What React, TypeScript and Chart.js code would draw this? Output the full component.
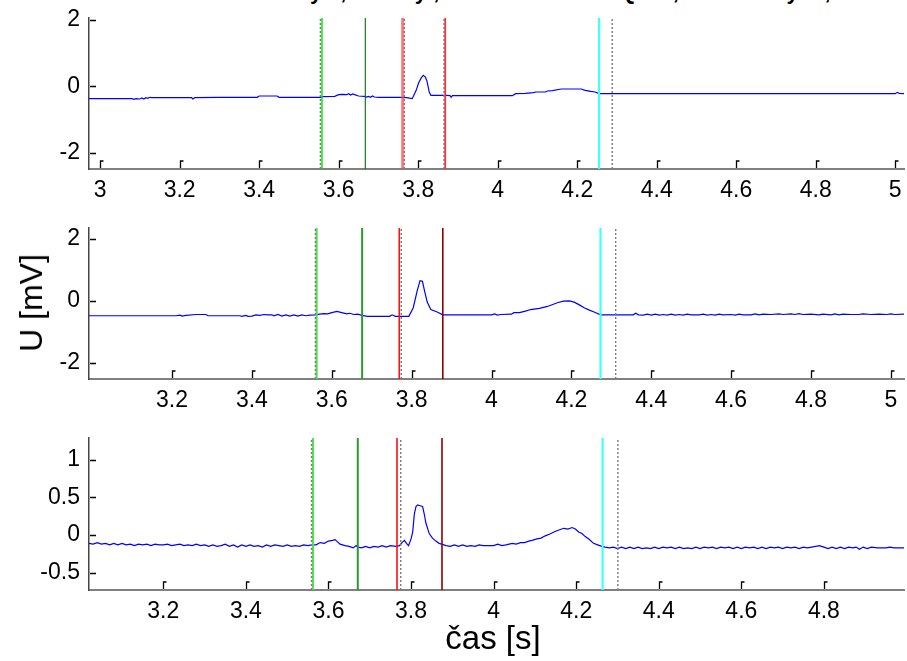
import React, { useEffect, useRef } from "react";
import { Chart, registerables } from "chart.js";

Chart.register(...registerables);

// ---------------- DATA ----------------
// Signal samples: [time s, voltage mV]
const topSignal: [number, number][] = [
  [2.972, -0.37], [3.0, -0.37], [3.05, -0.37], [3.08, -0.37], [3.085, -0.39], [3.09, -0.37],
  [3.1, -0.38], [3.105, -0.35], [3.11, -0.38], [3.115, -0.34], [3.12, -0.36], [3.125, -0.33],
  [3.13, -0.34], [3.16, -0.34], [3.2, -0.34], [3.23, -0.34], [3.233, -0.38], [3.238, -0.34],
  [3.3, -0.33], [3.35, -0.33], [3.395, -0.33], [3.4, -0.29], [3.445, -0.29], [3.45, -0.33],
  [3.5, -0.33], [3.555, -0.33], [3.56, -0.31], [3.59, -0.3], [3.6, -0.25], [3.61, -0.24],
  [3.62, -0.25], [3.625, -0.22], [3.63, -0.26], [3.635, -0.23], [3.64, -0.25], [3.65, -0.29],
  [3.665, -0.3], [3.67, -0.32], [3.675, -0.3], [3.68, -0.33], [3.685, -0.29], [3.69, -0.32],
  [3.7, -0.33], [3.76, -0.33], [3.77, -0.34], [3.785, -0.37], [3.795, -0.12], [3.801, 0.1],
  [3.808, 0.26], [3.813, 0.33], [3.818, 0.28], [3.822, 0.16], [3.828, -0.18], [3.832, -0.27],
  [3.87, -0.27], [3.88, -0.28], [3.883, -0.33], [3.886, -0.28], [3.95, -0.28], [4.037, -0.28],
  [4.045, -0.22], [4.07, -0.21], [4.09, -0.19], [4.096, -0.17], [4.12, -0.17], [4.125, -0.14],
  [4.138, -0.13], [4.16, -0.08], [4.21, -0.08], [4.22, -0.12], [4.234, -0.15], [4.245, -0.17],
  [4.255, -0.22], [4.3, -0.22], [4.5, -0.22], [4.8, -0.22], [5.0, -0.22], [5.005, -0.18],
  [5.01, -0.21], [5.022, -0.22],
];

const middleSignal: [number, number][] = [
  [2.992, -0.48], [3.1, -0.48], [3.21, -0.48], [3.22, -0.46], [3.225, -0.49], [3.235, -0.47],
  [3.26, -0.44], [3.285, -0.44], [3.29, -0.48], [3.37, -0.48], [3.375, -0.5], [3.385, -0.47],
  [3.39, -0.5], [3.4, -0.49], [3.41, -0.45], [3.42, -0.47], [3.43, -0.44], [3.44, -0.45],
  [3.45, -0.45], [3.455, -0.48], [3.465, -0.44], [3.475, -0.49], [3.485, -0.45], [3.495, -0.49],
  [3.505, -0.45], [3.515, -0.49], [3.525, -0.45], [3.535, -0.48], [3.545, -0.46], [3.559, -0.45],
  [3.57, -0.43], [3.58, -0.41], [3.59, -0.42], [3.6, -0.38], [3.613, -0.34], [3.625, -0.38],
  [3.638, -0.42], [3.645, -0.4], [3.655, -0.44], [3.665, -0.43], [3.676, -0.47], [3.689, -0.5],
  [3.745, -0.5], [3.751, -0.45], [3.759, -0.5], [3.793, -0.5], [3.804, -0.22], [3.814, 0.33],
  [3.821, 0.65], [3.827, 0.63], [3.833, 0.28], [3.839, -0.04], [3.848, -0.28], [3.864, -0.36],
  [3.878, -0.45], [4.0, -0.45], [4.008, -0.42], [4.015, -0.46], [4.023, -0.44], [4.05, -0.43],
  [4.056, -0.38], [4.07, -0.38], [4.085, -0.33], [4.098, -0.28], [4.12, -0.24], [4.14, -0.18],
  [4.165, -0.06], [4.18, -0.01], [4.195, 0.0], [4.207, -0.04], [4.22, -0.13], [4.232, -0.22],
  [4.245, -0.3], [4.257, -0.36], [4.273, -0.45], [4.355, -0.45], [4.361, -0.4], [4.368, -0.45],
  [4.38, -0.46], [4.39, -0.43], [4.4, -0.46], [4.41, -0.43], [4.42, -0.46], [4.43, -0.44],
  [4.44, -0.46], [4.45, -0.43], [4.46, -0.46], [4.47, -0.44], [4.48, -0.46], [4.49, -0.43],
  [4.5, -0.45], [4.52, -0.45], [4.53, -0.43], [4.54, -0.46], [4.55, -0.44], [4.56, -0.46],
  [4.57, -0.43], [4.58, -0.45], [4.6, -0.44], [4.61, -0.46], [4.62, -0.43], [4.63, -0.45],
  [4.65, -0.45], [4.66, -0.42], [4.67, -0.45], [4.68, -0.43], [4.7, -0.44], [4.72, -0.42],
  [4.73, -0.44], [4.75, -0.42], [4.76, -0.44], [4.77, -0.41], [4.78, -0.44], [4.8, -0.43],
  [4.82, -0.45], [4.83, -0.43], [4.85, -0.45], [4.86, -0.42], [4.87, -0.45], [4.88, -0.43],
  [4.9, -0.44], [4.92, -0.44], [4.93, -0.42], [4.95, -0.44], [4.97, -0.43], [4.99, -0.44],
  [5.0, -0.42], [5.01, -0.44], [5.033, -0.43],
];

const bottomSignal: [number, number][] = [
  [3.02, -0.11], [3.03, -0.12], [3.04, -0.1], [3.05, -0.12], [3.06, -0.11], [3.07, -0.13],
  [3.08, -0.11], [3.09, -0.13], [3.1, -0.11], [3.11, -0.13], [3.12, -0.12], [3.13, -0.14],
  [3.14, -0.12], [3.15, -0.13], [3.16, -0.12], [3.17, -0.14], [3.18, -0.12], [3.19, -0.13],
  [3.2, -0.13], [3.21, -0.12], [3.22, -0.14], [3.23, -0.13], [3.24, -0.12], [3.25, -0.14],
  [3.26, -0.13], [3.27, -0.14], [3.28, -0.12], [3.29, -0.14], [3.3, -0.13], [3.31, -0.15],
  [3.32, -0.13], [3.33, -0.15], [3.34, -0.14], [3.35, -0.12], [3.36, -0.15], [3.37, -0.13],
  [3.38, -0.16], [3.39, -0.13], [3.4, -0.15], [3.41, -0.13], [3.42, -0.15], [3.43, -0.14],
  [3.44, -0.16], [3.45, -0.13], [3.46, -0.15], [3.47, -0.13], [3.48, -0.14], [3.49, -0.15],
  [3.5, -0.13], [3.51, -0.15], [3.52, -0.14], [3.53, -0.15], [3.54, -0.13], [3.55, -0.14],
  [3.56, -0.13], [3.57, -0.13], [3.58, -0.1], [3.59, -0.11], [3.6, -0.08], [3.61, -0.07],
  [3.616, -0.06], [3.622, -0.09], [3.628, -0.12], [3.64, -0.14], [3.65, -0.15], [3.66, -0.17],
  [3.667, -0.14], [3.671, -0.16], [3.68, -0.17], [3.69, -0.15], [3.7, -0.17], [3.71, -0.15],
  [3.72, -0.16], [3.73, -0.14], [3.74, -0.16], [3.75, -0.14], [3.764, -0.15], [3.772, -0.14],
  [3.778, -0.1], [3.784, -0.07], [3.789, -0.11], [3.794, -0.14], [3.8, -0.05], [3.804, 0.04],
  [3.808, 0.28], [3.812, 0.38], [3.816, 0.4], [3.822, 0.39], [3.828, 0.38], [3.832, 0.28],
  [3.836, 0.16], [3.844, 0.02], [3.852, -0.04], [3.86, -0.08], [3.868, -0.11], [3.874, -0.12],
  [3.885, -0.14], [3.895, -0.15], [3.905, -0.13], [3.915, -0.15], [3.925, -0.13], [3.935, -0.15],
  [3.945, -0.14], [3.955, -0.15], [3.965, -0.13], [3.975, -0.14], [3.99, -0.14], [4.0, -0.14],
  [4.01, -0.12], [4.02, -0.14], [4.03, -0.13], [4.045, -0.11], [4.055, -0.12], [4.065, -0.1],
  [4.075, -0.1], [4.085, -0.08], [4.093, -0.07], [4.105, -0.05], [4.115, -0.04], [4.125, -0.01],
  [4.135, 0.01], [4.15, 0.05], [4.16, 0.07], [4.17, 0.09], [4.18, 0.08], [4.19, 0.1],
  [4.198, 0.08], [4.206, 0.04], [4.214, 0.02], [4.222, -0.02], [4.232, -0.06], [4.242, -0.11],
  [4.252, -0.13], [4.262, -0.15], [4.27, -0.16], [4.28, -0.17], [4.29, -0.16], [4.3, -0.18],
  [4.31, -0.16], [4.32, -0.18], [4.33, -0.16], [4.34, -0.18], [4.35, -0.16], [4.36, -0.18],
  [4.37, -0.17], [4.38, -0.18], [4.39, -0.16], [4.4, -0.18], [4.41, -0.16], [4.42, -0.17],
  [4.43, -0.16], [4.44, -0.18], [4.45, -0.16], [4.46, -0.18], [4.47, -0.17], [4.48, -0.18],
  [4.49, -0.16], [4.5, -0.18], [4.51, -0.16], [4.52, -0.17], [4.53, -0.16], [4.54, -0.18],
  [4.55, -0.16], [4.56, -0.17], [4.57, -0.16], [4.58, -0.18], [4.59, -0.16], [4.6, -0.18],
  [4.61, -0.16], [4.62, -0.17], [4.63, -0.16], [4.64, -0.18], [4.65, -0.16], [4.66, -0.18],
  [4.67, -0.16], [4.68, -0.17], [4.69, -0.16], [4.7, -0.18], [4.71, -0.16], [4.72, -0.17],
  [4.73, -0.16], [4.74, -0.18], [4.75, -0.16], [4.76, -0.17], [4.77, -0.16], [4.78, -0.15],
  [4.789, -0.14], [4.8, -0.16], [4.81, -0.18], [4.82, -0.16], [4.83, -0.18], [4.84, -0.16],
  [4.85, -0.18], [4.86, -0.16], [4.87, -0.17], [4.878, -0.16], [4.886, -0.19], [4.895, -0.16],
  [4.905, -0.18], [4.915, -0.16], [4.93, -0.17], [4.95, -0.17], [4.96, -0.16], [4.97, -0.17],
  [4.994, -0.17],
];

// Annotation marker times (s) and their kinds
const topMarkerTimes = [3.554, 3.558, 3.667, 3.761, 3.765, 3.865, 3.868, 4.255, 4.288];
const topMarkerKinds = ["ref", "pOn", "pOff", "qrsOnSoft", "ref", "ref", "qrsOnBright", "tOff", "ref"];
const middleMarkerTimes = [3.559, 3.562, 3.676, 3.769, 3.774, 3.878, 4.273, 4.311];
const middleMarkerKinds = ["ref", "pOnSoft", "pOffSoft", "qrsOn", "ref", "qrsOff", "tOff", "ref"];
const bottomMarkerTimes = [3.559, 3.5625, 3.671, 3.766, 3.775, 3.875, 4.264, 4.301];
const bottomMarkerKinds = ["ref", "pOnSoft", "pOffSoft", "qrsOn", "ref", "qrsOff", "tOff", "ref"];

// Axis ranges and tick labels
const topXRange = [2.972, 5.022];
const topYRange = [-2.48, 2.05];
const topXTicks = [3, 3.2, 3.4, 3.6, 3.8, 4, 4.2, 4.4, 4.6, 4.8, 5];
const topYTicks = [-2, 0, 2];
const middleXRange = [2.992, 5.033];
const middleYRange = [-2.52, 2.35];
const middleXTicks = [3.2, 3.4, 3.6, 3.8, 4, 4.2, 4.4, 4.6, 4.8, 5];
const middleYTicks = [-2, 0, 2];
const bottomXRange = [3.02, 4.994];
const bottomYRange = [-0.73, 1.29];
const bottomXTicks = [3.2, 3.4, 3.6, 3.8, 4, 4.2, 4.4, 4.6, 4.8];
const bottomYTicks = [-0.5, 0, 0.5, 1];

const titleText = "Detekce: začátek a konec vlny P, R body , začátek a konec QRS , konec vlny T , konec";
const yAxisLabel = "U [mV]";
const xAxisLabel = "čas [s]";

// ---------------- STYLES ----------------
const FONT = "'Liberation Sans', Arial, Helvetica, sans-serif";
const markerStyle: Record<string, { color: string; width: number; dash: number[] }> = {
  ref: { color: "#7a7a7a", width: 1.4, dash: [2, 2] },
  pOn: { color: "#00ee00", width: 1.5, dash: [] },
  pOnSoft: { color: "#55e055", width: 2.2, dash: [] },
  pOff: { color: "#007000", width: 1.1, dash: [] },
  pOffSoft: { color: "#2a9a2a", width: 2, dash: [] },
  qrsOnSoft: { color: "rgba(240,80,80,0.75)", width: 3, dash: [] },
  qrsOnBright: { color: "#ff3030", width: 1.8, dash: [] },
  qrsOn: { color: "#ff1010", width: 1.6, dash: [] },
  qrsOff: { color: "#900000", width: 1.6, dash: [] },
  tOff: { color: "#40ffff", width: 2.2, dash: [] },
};

const matlabTicks = {
  id: "matlabTicks",
  afterDatasetsDraw(chart: any) {
    const { ctx, chartArea, scales } = chart;
    const xs = scales.x;
    const ys = scales.y;
    ctx.save();
    ctx.strokeStyle = "#000";
    ctx.lineWidth = 1.3;
    ctx.beginPath();
    xs.ticks.forEach((t: any) => {
      const px = Math.round(xs.getPixelForValue(t.value)) + 0.5;
      ctx.moveTo(px, chartArea.bottom - 1);
      ctx.lineTo(px, chartArea.bottom - 8);
      ctx.lineTo(px + 3, chartArea.bottom - 8);
    });
    ys.ticks.forEach((t: any) => {
      const py = Math.round(ys.getPixelForValue(t.value)) + 0.5;
      ctx.moveTo(chartArea.left + 1, py);
      ctx.lineTo(chartArea.left + 7, py);
    });
    ctx.stroke();
    ctx.restore();
  },
};

function fmt(v: number) {
  return String(Math.round(v * 100) / 100);
}

type PanelProps = {
  top: number;
  height: number;
  areaTop: number;
  axisHeight: number;
  signal: [number, number][];
  markerTimes: number[];
  markerKinds: string[];
  xRange: number[];
  yRange: number[];
  xTicks: number[];
  yTicks: number[];
};

function Panel(p: PanelProps) {
  const ref = useRef<HTMLCanvasElement | null>(null);
  useEffect(() => {
    if (!ref.current) return;
    const markerSets = p.markerTimes.map((t, i) => {
      const st = markerStyle[p.markerKinds[i]];
      return {
        data: [
          { x: t, y: p.yRange[0] },
          { x: t, y: p.yRange[1] },
        ],
        borderColor: st.color,
        borderWidth: st.width,
        borderDash: st.dash,
        pointRadius: 0,
        order: 0,
      };
    });
    const chart = new Chart(ref.current, {
      type: "line",
      data: {
        datasets: [
          {
            data: p.signal.map(([x, y]) => ({ x, y })),
            borderColor: "#0000ff",
            borderWidth: 1.2,
            pointRadius: 0,
            tension: 0,
            order: 1,
          } as any,
          ...markerSets,
        ],
      },
      options: {
        animation: false,
        responsive: false,
        events: [],
        layout: { padding: { top: p.areaTop, right: 3, left: 0, bottom: 0 } },
        plugins: { legend: { display: false }, tooltip: { enabled: false }, title: { display: false } },
        scales: {
          x: {
            type: "linear",
            min: p.xRange[0],
            max: p.xRange[1],
            grid: { display: false, drawTicks: false },
            border: { display: true, color: "#808080", width: 2 },
            afterBuildTicks: (s: any) => {
              s.ticks = p.xTicks.map((v) => ({ value: v }));
            },
            afterFit: (s: any) => {
              s.height = p.axisHeight;
              s.paddingLeft = 0;
              s.paddingRight = 0;
            },
            ticks: {
              autoSkip: false,
              maxRotation: 0,
              padding: 8,
              color: "#000",
              font: { family: FONT, size: 23 },
              callback: (v: any) => fmt(Number(v)),
            },
          },
          y: {
            type: "linear",
            min: p.yRange[0],
            max: p.yRange[1],
            grid: { display: false, drawTicks: false },
            border: { display: true, color: "#454545", width: 1.5 },
            afterBuildTicks: (s: any) => {
              s.ticks = p.yTicks.map((v) => ({ value: v }));
            },
            afterFit: (s: any) => {
              s.width = 89;
              s.paddingTop = 0;
              s.paddingBottom = 0;
            },
            ticks: {
              autoSkip: false,
              padding: 9,
              color: "#000",
              font: { family: FONT, size: 23 },
              callback: (v: any) => fmt(Number(v)),
            },
          },
        },
      } as any,
      plugins: [matlabTicks],
    });
    return () => chart.destroy();
  }, []);
  return (
    <canvas
      ref={ref}
      width={907}
      height={p.height}
      style={{ position: "absolute", left: 0, top: p.top, width: 907, height: p.height }}
    />
  );
}

export default function App() {
  return (
    <div
      style={{
        position: "absolute",
        left: 0,
        top: 0,
        width: 907,
        height: 661,
        overflow: "hidden",
        background: "#fff",
      }}
    >
      <div
        style={{
          position: "absolute",
          left: 0,
          width: 907,
          top: -19,
          textAlign: "center",
          fontFamily: FONT,
          fontWeight: "bold",
          fontSize: 22,
          lineHeight: "22px",
          whiteSpace: "nowrap",
          color: "#000",
        }}
      >
        {titleText}
      </div>
      <Panel
        top={0}
        height={215}
        areaTop={18}
        axisHeight={46}
        signal={topSignal}
        markerTimes={topMarkerTimes}
        markerKinds={topMarkerKinds}
        xRange={topXRange}
        yRange={topYRange}
        xTicks={topXTicks}
        yTicks={topYTicks}
      />
      <Panel
        top={215}
        height={210}
        areaTop={13}
        axisHeight={46}
        signal={middleSignal}
        markerTimes={middleMarkerTimes}
        markerKinds={middleMarkerKinds}
        xRange={middleXRange}
        yRange={middleYRange}
        xTicks={middleXTicks}
        yTicks={middleYTicks}
      />
      <Panel
        top={425}
        height={236}
        areaTop={13}
        axisHeight={71}
        signal={bottomSignal}
        markerTimes={bottomMarkerTimes}
        markerKinds={bottomMarkerKinds}
        xRange={bottomXRange}
        yRange={bottomYRange}
        xTicks={bottomXTicks}
        yTicks={bottomYTicks}
      />
      <div
        style={{
          position: "absolute",
          left: 31,
          top: 303,
          transform: "translate(-50%, -50%) rotate(-90deg)",
          fontFamily: FONT,
          fontSize: 32,
          lineHeight: "32px",
          whiteSpace: "nowrap",
          color: "#000",
        }}
      >
        {yAxisLabel}
      </div>
      <div
        style={{
          position: "absolute",
          left: 493,
          top: 621,
          transform: "translateX(-50%)",
          fontFamily: FONT,
          fontSize: 33,
          lineHeight: "33px",
          whiteSpace: "nowrap",
          color: "#000",
        }}
      >
        {xAxisLabel}
      </div>
    </div>
  );
}
